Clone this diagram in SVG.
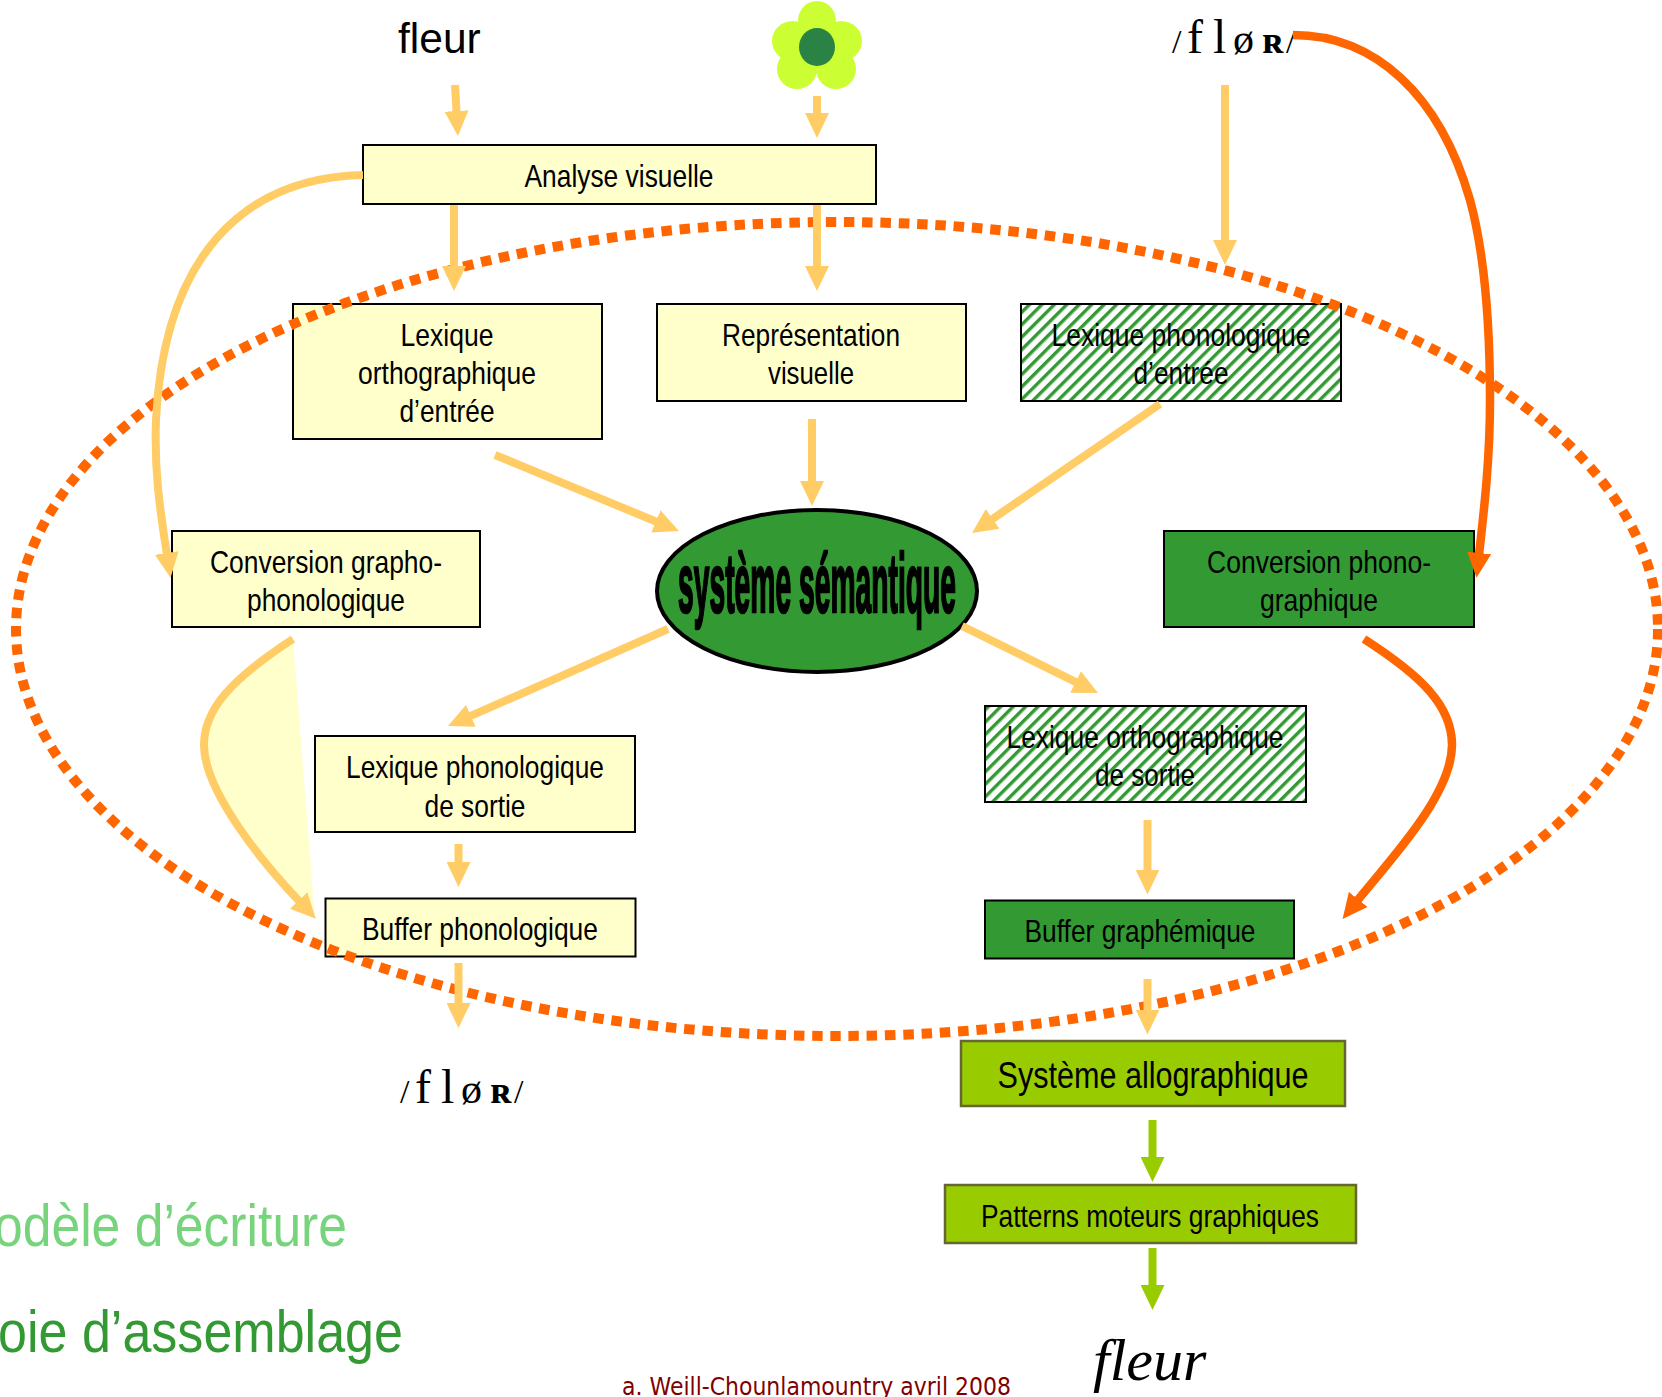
<svg xmlns="http://www.w3.org/2000/svg" width="1662" height="1397" viewBox="0 0 1662 1397">
<style>
text{font-family:"Liberation Sans",Arial,sans-serif;fill:#000}
.l{font-size:32px;text-anchor:middle}
.box{stroke:#000;stroke-width:2}
.y{fill:#FFFFCC}
.g{fill:#339933}
.h{fill:url(#hatch)}
.a{fill:#99CC00;stroke:#666633;stroke-width:2.5}
.c{fill:none;stroke:#FFCC66;stroke-width:8;marker-end:url(#my)}
.o{fill:none;stroke:#FF6600;stroke-width:8.5;marker-end:url(#mo)}
.v{fill:none;stroke:#99CC00;stroke-width:8;marker-end:url(#mg)}
.ph{font-family:"Liberation Serif","DejaVu Serif",serif}
</style>
<defs>
<pattern id="hatch" width="8.8" height="8.8" patternUnits="userSpaceOnUse" patternTransform="rotate(45)"><rect width="8.8" height="8.8" fill="#fff"/><rect width="3.4" height="8.8" fill="#339933"/></pattern>
<marker id="my" markerUnits="userSpaceOnUse" markerWidth="25" markerHeight="24" refX="2" refY="12" orient="auto"><path d="M0,0L25,12L0,24z" fill="#FFCC66"/></marker>
<marker id="mo" markerUnits="userSpaceOnUse" markerWidth="25" markerHeight="24" refX="2" refY="12" orient="auto"><path d="M0,0L25,12L0,24z" fill="#FF6600"/></marker>
<marker id="mg" markerUnits="userSpaceOnUse" markerWidth="25" markerHeight="24" refX="2" refY="12" orient="auto"><path d="M0,0L25,12L0,24z" fill="#99CC00"/></marker>
</defs>

<g id="word-fleur"><text x="398" y="53" font-size="42.5">fleur</text></g>
<g id="flower">
<g fill="#CCFF33"><circle cx="817" cy="47" r="26"/><ellipse cx="817" cy="21" rx="19" ry="20"/><ellipse cx="793" cy="41" rx="21" ry="20"/><ellipse cx="841" cy="41" rx="21" ry="20"/><ellipse cx="797" cy="69" rx="20" ry="20"/><ellipse cx="836" cy="69" rx="20" ry="20"/></g>
<ellipse cx="817" cy="47" rx="18" ry="19" fill="#2A8244"/>
</g>
<g id="phon-input"><text class="ph" y="53"><tspan x="1172" font-size="34">/</tspan><tspan x="1187" font-size="48">f</tspan><tspan x="1213" font-size="48">l</tspan><tspan x="1233" font-size="42">ø</tspan><tspan x="1262" font-size="38" font-weight="bold">ʀ</tspan><tspan x="1286" font-size="34">/</tspan></text></g>

<g id="analyse"><rect class="box y" x="363" y="145" width="513" height="59"/><text class="l" x="619" y="187" textLength="189" lengthAdjust="spacingAndGlyphs">Analyse visuelle</text></g>
<g id="lexique-ortho-entree"><rect class="box y" x="293" y="304" width="309" height="135"/><text class="l" x="447" y="346" textLength="93" lengthAdjust="spacingAndGlyphs">Lexique</text><text class="l" x="447" y="384" textLength="178" lengthAdjust="spacingAndGlyphs">orthographique</text><text class="l" x="447" y="422" textLength="95" lengthAdjust="spacingAndGlyphs">d’entrée</text></g>
<g id="representation"><rect class="box y" x="657" y="304" width="309" height="97"/><text class="l" x="811" y="346" textLength="178" lengthAdjust="spacingAndGlyphs">Représentation</text><text class="l" x="811" y="384" textLength="86" lengthAdjust="spacingAndGlyphs">visuelle</text></g>
<g id="lexique-phono-entree"><rect class="box h" x="1021" y="304" width="320" height="97"/><text class="l" x="1181" y="346" textLength="259" lengthAdjust="spacingAndGlyphs">Lexique phonologique</text><text class="l" x="1181" y="384" textLength="95" lengthAdjust="spacingAndGlyphs">d’entrée</text></g>
<g id="conv-grapho"><rect class="box y" x="172" y="531" width="308" height="96"/><text class="l" x="326" y="573" textLength="232" lengthAdjust="spacingAndGlyphs">Conversion grapho-</text><text class="l" x="326" y="611" textLength="158" lengthAdjust="spacingAndGlyphs">phonologique</text></g>
<g id="conv-phono"><rect class="box g" x="1164" y="531" width="310" height="96"/><text class="l" x="1319" y="573" textLength="224" lengthAdjust="spacingAndGlyphs">Conversion phono-</text><text class="l" x="1319" y="611" textLength="118" lengthAdjust="spacingAndGlyphs">graphique</text></g>
<g id="semantique"><ellipse cx="817" cy="591" rx="160" ry="81" fill="#339933" stroke="#000" stroke-width="4"/><text x="817" y="612" font-size="84" font-weight="bold" text-anchor="middle" stroke="#000" stroke-width="2.6" textLength="278" lengthAdjust="spacingAndGlyphs">système sémantique</text></g>
<g id="lexique-phono-sortie"><rect class="box y" x="315" y="736" width="320" height="96"/><text class="l" x="475" y="778" textLength="258" lengthAdjust="spacingAndGlyphs">Lexique phonologique</text><text class="l" x="475" y="817" textLength="101" lengthAdjust="spacingAndGlyphs">de sortie</text></g>
<g id="buffer-phono"><rect class="box y" x="325.500" y="898.500" width="310" height="58"/><text class="l" x="480" y="940" textLength="236" lengthAdjust="spacingAndGlyphs">Buffer phonologique</text></g>
<g id="lexique-ortho-sortie"><rect class="box h" x="985" y="706" width="321" height="96"/><text class="l" x="1145" y="748" textLength="277" lengthAdjust="spacingAndGlyphs">Lexique orthographique</text><text class="l" x="1145" y="786" textLength="100" lengthAdjust="spacingAndGlyphs">de sortie</text></g>
<g id="buffer-graph"><rect class="box g" x="985" y="900.500" width="309" height="58"/><text class="l" x="1140" y="942" textLength="231" lengthAdjust="spacingAndGlyphs">Buffer graphémique</text></g>
<g id="allographique"><rect class="a" x="961" y="1041" width="384" height="65"/><text class="l" x="1153" y="1088" style="font-size:36px" textLength="311" lengthAdjust="spacingAndGlyphs">Système allographique</text></g>
<g id="patterns"><rect class="a" x="945" y="1185" width="411" height="58"/><text class="l" x="1150" y="1227" textLength="338" lengthAdjust="spacingAndGlyphs">Patterns moteurs graphiques</text></g>

<g id="phon-output"><text class="ph" y="1103"><tspan x="400" font-size="34">/</tspan><tspan x="415" font-size="48">f</tspan><tspan x="441" font-size="48">l</tspan><tspan x="461" font-size="42">ø</tspan><tspan x="490" font-size="38" font-weight="bold">ʀ</tspan><tspan x="514" font-size="34">/</tspan></text></g>
<g id="word-fleur-script"><text x="1093" y="1380" font-size="60" font-style="italic" style="font-family:'Liberation Serif',serif">fleur</text></g>
<g id="legend">
<text x="-6" y="1246" font-size="60" style="fill:#77D47D" textLength="353" lengthAdjust="spacingAndGlyphs">odèle d’écriture</text>
<text x="-2" y="1352" font-size="60" style="fill:#339933" textLength="405" lengthAdjust="spacingAndGlyphs">oie d’assemblage</text>
<text x="622" y="1395" font-size="24" style="font-family:'DejaVu Sans',sans-serif;fill:#800000" textLength="389" lengthAdjust="spacingAndGlyphs">a. Weill-Chounlamountry avril 2008</text>
</g>

<g id="boucle"><ellipse cx="837" cy="629" rx="821" ry="407" fill="none" stroke="#FF6600" stroke-width="10" stroke-dasharray="10.500 7.800"/></g>

<g id="connectors">
<path d="M293,639C230,680 204,710 204,745C204,790 260,860 315,919z" fill="#FFFFCC"/>
<path class="c" d="M455,85L456.6,113"/>
<path class="c" d="M817,96V115"/>
<path class="c" d="M1225,85V242"/>
<path class="c" d="M454,205V268"/>
<path class="c" d="M817,205V268"/>
<path class="c" d="M495,455L657.7,522.2"/>
<path class="c" d="M812,419V483"/>
<path class="c" d="M1160,404L991,520"/>
<path class="c" d="M668,629L469,716.7"/>
<path class="c" d="M962,626L1077.400,682.8"/>
<path class="c" d="M458.500,844V864"/>
<path class="c" d="M1147.500,820V871.500"/>
<path class="c" d="M458.500,963V1005"/>
<path class="c" d="M1147.500,979V1011.500"/>
<path class="v" d="M1152.500,1120V1159"/>
<path class="v" d="M1152.500,1248V1287"/>
<path class="c" d="M363,175C240,178 164,260 156,420C154,470 160,510 167,555"/>
<path class="c" d="M293,639C230,680 204,710 204,745C204,790 260,860 300,902"/>
<path class="o" d="M1293,35C1375,35 1440,95 1470,200C1485,255 1490,330 1490,400C1490,460 1484,510 1479,555"/>
<path class="o" d="M1364,639C1420,675 1452,705 1452,745C1452,795 1390,860 1357,901"/>
</g>
</svg>
